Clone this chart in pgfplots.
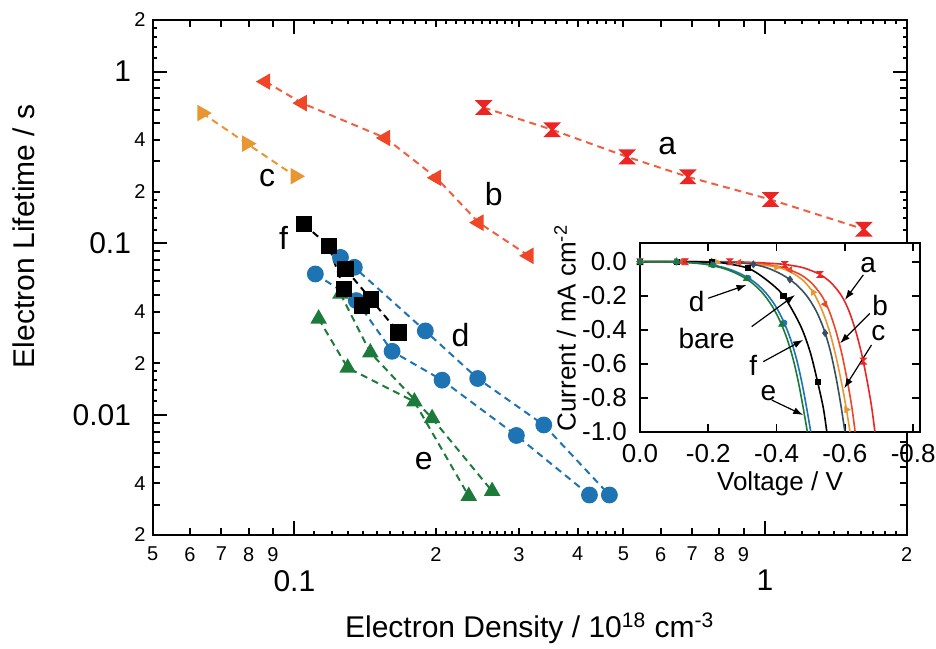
\documentclass[border=0pt]{standalone}
\usepackage{pgfplots}
\pgfplotsset{compat=1.18}
\usepackage{fontspec}
\setmainfont{Liberation Sans}
\usetikzlibrary{arrows.meta}
\definecolor{cA}{RGB}{236,36,36}
\definecolor{cAl}{RGB}{240,95,65}
\definecolor{cB}{RGB}{238,70,38}
\definecolor{cC}{RGB}{232,150,50}
\definecolor{cD}{RGB}{30,115,178}
\definecolor{cE}{RGB}{28,122,58}
\definecolor{cBare}{RGB}{55,80,95}
\pgfdeclareplotmark{hourglass}{%
  \pgfpathmoveto{\pgfqpoint{-\pgfplotmarksize}{\pgfplotmarksize}}%
  \pgfpathlineto{\pgfqpoint{\pgfplotmarksize}{\pgfplotmarksize}}%
  \pgfpathlineto{\pgfqpoint{-\pgfplotmarksize}{-\pgfplotmarksize}}%
  \pgfpathlineto{\pgfqpoint{\pgfplotmarksize}{-\pgfplotmarksize}}%
  \pgfpathclose
  \pgfusepathqfillstroke}
\begin{document}
\begin{tikzpicture}
\begin{axis}[
  at={(0pt,0pt)}, anchor=south west,
  scale only axis, width=377pt, height=257.5pt,
  xmode=log, ymode=log, xmin=0.05, xmax=2, ymin=0.002, ymax=2,
  clip=false,
  axis line style={line width=1pt},
  every tick/.style={black, line width=1pt},
  tick align=inside, tick pos=both,
  major tick length=3.5pt, minor tick length=2pt,
  /pgf/number format/assume math mode=true,
  tick label style={font=\fontsize{10}{10}\selectfont},
  x tick label style={yshift=-2.5pt},
  xtick={0.05,0.06,0.07,0.08,0.09,0.2,0.3,0.4,0.5,0.6,0.7,0.8,0.9,2},
  xticklabels={5,6,7,8,9,2,3,4,5,6,7,8,9,2},
  minor xtick={0.11,0.12,0.13,0.14,0.15,0.16,0.17,0.18,0.19,0.21,0.22,0.23,0.24,0.25,0.26,0.27,0.28,0.29,0.32,0.34,0.36,0.38,0.42,0.44,0.46,0.48,1.1,1.2,1.3,1.4,1.5,1.6,1.7,1.8,1.9},
  ytick={0.002,0.003,0.004,0.005,0.006,0.007,0.008,0.009,0.02,0.03,0.04,0.05,0.06,0.07,0.08,0.09,0.2,0.3,0.4,0.5,0.6,0.7,0.8,0.9,2},
  yticklabels={{2},{},{4},{},{},{},{},{},{2},{},{4},{},{},{},{},{},{2},{},{4},{},{},{},{},{},{2}},
  minor ytick={0.012,0.014,0.016,0.018,0.12,0.14,0.16,0.18,1.2,1.4,1.6,1.8},
  extra x ticks={0.1,1}, extra x tick labels={0.1,1},
  extra x tick style={major tick length=7pt, tick label style={font=\fontsize{15}{15}\selectfont, yshift=-11.5pt}},
  extra y ticks={0.01,0.1,1}, extra y tick labels={0.01,0.1,1},
  extra y tick style={major tick length=7pt, tick label style={font=\fontsize{15}{15}\selectfont, xshift=-7.3pt}},
  xlabel={Electron Density / 10\textsuperscript{18} cm\textsuperscript{-3}},
  ylabel={Electron Lifetime / s},
  label style={font=\fontsize{15}{15}\selectfont},
  xlabel style={at={(axis description cs:0.5,-0.1806)}, anchor=center},
  ylabel style={at={(axis description cs:-0.1707,0.58)}, anchor=center},
]
% a
\addplot[cAl, dashed, dash pattern=on 3.5pt off 2.5pt, line width=1pt, mark=hourglass, mark size=3.2pt, mark options={solid, fill=cA, draw=cA}]
 coordinates {(0.2525,0.618) (0.3529,0.459) (0.5094,0.319) (0.6855,0.244) (1.027,0.180) (1.622,0.1208)};
% b
\addplot[cAl, dashed, dash pattern=on 3.5pt off 2.5pt, line width=1pt, mark=triangle*, mark size=3.8pt, mark options={solid, rotate=90, fill=cB, draw=cB}]
 coordinates {(0.0868,0.875) (0.1038,0.656) (0.1561,0.411) (0.2003,0.241) (0.2464,0.132) (0.3148,0.0846)};
% c
\addplot[cC, dashed, dash pattern=on 3.5pt off 2.5pt, line width=1pt, mark=triangle*, mark size=3.8pt, mark options={solid, rotate=-90, fill=cC, draw=cC}]
 coordinates {(0.0637,0.574) (0.0793,0.381) (0.1005,0.246)};
% d
\addplot[cD, dashed, dash pattern=on 3.5pt off 2.5pt, line width=1pt, mark=*, mark size=3.7pt, mark options={solid, fill=cD, draw=cD}]
 coordinates {(0.1253,0.0828) (0.1341,0.0725) (0.1898,0.0309) (0.2452,0.01632) (0.3388,0.00875) (0.467,0.00342)};
\addplot[cD, dashed, dash pattern=on 3.5pt off 2.5pt, line width=1pt, mark=*, mark size=3.7pt, mark options={solid, fill=cD, draw=cD}]
 coordinates {(0.1108,0.0663) (0.1354,0.0464) (0.1613,0.0235) (0.206,0.01596) (0.2963,0.0076) (0.4236,0.00342)};
% e
\addplot[cE, dashed, dash pattern=on 3.5pt off 2.5pt, line width=1pt, mark=triangle*, mark size=3.8pt, mark options={solid, fill=cE, draw=cE}]
 coordinates {(0.1126,0.03636) (0.1298,0.01883) (0.1799,0.01196) (0.2347,0.00337)};
\addplot[cE, dashed, dash pattern=on 3.5pt off 2.5pt, line width=1pt, mark=triangle*, mark size=3.8pt, mark options={solid, fill=cE, draw=cE}]
 coordinates {(0.1253,0.0508) (0.145,0.0231) (0.1962,0.00957) (0.2631,0.0036)};
% f
\addplot[black, dashed, dash pattern=on 3.5pt off 2.5pt, line width=1pt, mark=square*, mark size=3.6pt, mark options={solid, fill=black}]
 coordinates {(0.1047,0.1292) (0.1183,0.0967) (0.1273,0.0543) (0.1393,0.0434)};
\addplot[black, dashed, dash pattern=on 3.5pt off 2.5pt, line width=1pt, mark=square*, mark size=3.6pt, mark options={solid, fill=black}]
 coordinates {(0.1284,0.0709) (0.1456,0.0470) (0.1666,0.0302)};
\begin{scope}[font=\fontsize{16}{16}\selectfont]
\node at (axis cs:0.6195,0.3674) {a};
\node at (axis cs:0.2652,0.1929) {b};
\node at (axis cs:0.0875,0.241) {c};
\node at (axis cs:0.2254,0.0291) {d};
\node at (axis cs:0.1883,0.00537) {e};
\node at (axis cs:0.0949,0.1082) {f};
\end{scope}
\end{axis}
\begin{axis}[
  at={(243.65pt,51.65pt)}, anchor=south west,
  scale only axis, width=140pt, height=94.2pt,
  x dir=reverse, xmin=-0.82, xmax=0, ymin=-1.0, ymax=0.108,
  axis background/.style={fill=white},
  axis line style={line width=0.9pt},
  every tick/.style={black, line width=0.9pt},
  tick align=inside, tick pos=both, major tick length=4pt,
  /pgf/number format/assume math mode=true,
  tick label style={font=\fontsize{13}{13}\selectfont},
  x tick label style={yshift=-3pt},
  y tick label style={xshift=-3pt},
  xtick={0,-0.2,-0.4,-0.6,-0.8}, xticklabels={0.0,-0.2,-0.4,-0.6,-0.8},
  ytick={0,-0.2,-0.4,-0.6,-0.8,-1.0}, yticklabels={0.0,-0.2,-0.4,-0.6,-0.8,-1.0},
  xlabel={Voltage / V}, ylabel={Current / mA cm\textsuperscript{-2}},
  label style={font=\fontsize{13}{13}\selectfont},
  xlabel style={at={(axis description cs:0.5,-0.274)}, anchor=center},
  ylabel style={at={(axis description cs:-0.268,0.55)}, anchor=center},
]
% curves
\addplot[cA, line width=0.8pt, smooth, tension=0.5] coordinates {(0,0) (-0.1,0) (-0.2,0) (-0.3,-0.002) (-0.4,-0.012) (-0.44,-0.021) (-0.48,-0.037) (-0.527,-0.075) (-0.56,-0.125) (-0.59,-0.2) (-0.612,-0.29) (-0.632,-0.41) (-0.65,-0.55) (-0.666,-0.71) (-0.678,-0.85) (-0.688,-1.0)};
\addplot[cB, line width=0.8pt, smooth, tension=0.5] coordinates {(0,0) (-0.1,0) (-0.2,-0.001) (-0.28,-0.004) (-0.35,-0.012) (-0.385,-0.021) (-0.422,-0.037) (-0.469,-0.075) (-0.502,-0.125) (-0.532,-0.2) (-0.554,-0.29) (-0.574,-0.41) (-0.592,-0.55) (-0.608,-0.71) (-0.62,-0.85) (-0.63,-1.0)};
\addplot[cC, line width=0.8pt, smooth, tension=0.5] coordinates {(0,0) (-0.1,0) (-0.2,-0.002) (-0.3,-0.008) (-0.4,-0.032) (-0.445,-0.065) (-0.48,-0.115) (-0.51,-0.19) (-0.534,-0.29) (-0.555,-0.41) (-0.573,-0.55) (-0.589,-0.70) (-0.603,-0.85) (-0.615,-1.0)};
\addplot[cBare, line width=0.8pt, smooth, tension=0.5] coordinates {(0,0) (-0.1,0) (-0.18,-0.001) (-0.25,-0.003) (-0.32,-0.012) (-0.37,-0.035) (-0.415,-0.075) (-0.455,-0.13) (-0.488,-0.2) (-0.516,-0.29) (-0.539,-0.40) (-0.558,-0.53) (-0.574,-0.68) (-0.588,-0.84) (-0.60,-1.0)};
\addplot[black, line width=0.8pt, smooth, tension=0.5] coordinates {(0,0) (-0.1,0) (-0.2,-0.003) (-0.244,-0.008) (-0.317,-0.039) (-0.371,-0.108) (-0.42,-0.2) (-0.469,-0.372) (-0.498,-0.529) (-0.52,-0.706) (-0.537,-0.862) (-0.547,-1.0)};
\addplot[cD, line width=0.8pt, smooth, tension=0.5] coordinates {(0,0) (-0.07,0) (-0.13,-0.003) (-0.2,-0.015) (-0.255,-0.04) (-0.298,-0.075) (-0.335,-0.12) (-0.367,-0.18) (-0.395,-0.255) (-0.419,-0.345) (-0.44,-0.45) (-0.458,-0.57) (-0.474,-0.71) (-0.488,-0.86) (-0.5,-1.0)};
\addplot[cE, line width=0.8pt, smooth, tension=0.5] coordinates {(0,0) (-0.06,0) (-0.12,-0.003) (-0.19,-0.015) (-0.245,-0.04) (-0.288,-0.075) (-0.325,-0.12) (-0.357,-0.18) (-0.385,-0.255) (-0.409,-0.345) (-0.43,-0.45) (-0.448,-0.57) (-0.464,-0.71) (-0.478,-0.86) (-0.49,-1.0)};
% markers
\addplot[only marks, mark=hourglass, mark size=1.5pt, cA, mark options={fill=cA}] coordinates {(0,0) (-0.132,0) (-0.263,-0.001) (-0.424,-0.017) (-0.527,-0.075) (-0.654,-0.585)};
\addplot[only marks, mark=triangle*, mark size=1.7pt, cB, mark options={rotate=90, fill=cB}] coordinates {(0,0) (-0.12,0) (-0.29,-0.005) (-0.439,-0.048) (-0.542,-0.25)};
\addplot[only marks, mark=triangle*, mark size=1.7pt, cC, mark options={rotate=-90, fill=cC}] coordinates {(0,0) (-0.107,0) (-0.225,-0.003) (-0.4,-0.032) (-0.507,-0.18) (-0.605,-0.87)};
\addplot[only marks, mark=diamond*, mark size=1.7pt, cBare, mark options={fill=cBare}] coordinates {(0,0) (-0.107,0) (-0.21,-0.002) (-0.332,-0.016) (-0.439,-0.105) (-0.542,-0.42)};
\addplot[only marks, mark=square*, mark size=1.3pt, black] coordinates {(0,0) (-0.107,0) (-0.21,-0.004) (-0.317,-0.039) (-0.42,-0.2) (-0.52,-0.706)};
\addplot[only marks, mark=*, mark size=1.4pt, cD, mark options={fill=cD}] coordinates {(0,0) (-0.107,0) (-0.214,-0.02) (-0.317,-0.097) (-0.422,-0.36)};
\addplot[only marks, mark=triangle*, mark size=1.7pt, cE, mark options={fill=cE}] coordinates {(0,0) (-0.107,0) (-0.21,-0.02) (-0.312,-0.1) (-0.415,-0.37)};
% labels and arrows
\begin{scope}[font=\fontsize{14}{14}\selectfont]
\node at (axis cs:-0.6685,-0.019) {a};
\node at (axis cs:-0.703,-0.255) {b};
\node at (axis cs:-0.698,-0.421) {c};
\node at (axis cs:-0.166,-0.235) {d};
\node at (axis cs:-0.195,-0.45) {bare};
\node at (axis cs:-0.332,-0.608) {f};
\node at (axis cs:-0.376,-0.774) {e};
\end{scope}
\begin{scope}[line width=0.6pt, -{Latex[length=5pt,width=3.5pt]}]
\draw (axis cs:-0.654,-0.078) -- (axis cs:-0.600,-0.225);
\draw (axis cs:-0.673,-0.304) -- (axis cs:-0.586,-0.48);
\draw (axis cs:-0.678,-0.49) -- (axis cs:-0.598,-0.745);
\draw (axis cs:-0.200,-0.215) -- (axis cs:-0.312,-0.137);
\draw (axis cs:-0.327,-0.382) -- (axis cs:-0.454,-0.196);
\draw (axis cs:-0.361,-0.588) -- (axis cs:-0.478,-0.46);
\draw (axis cs:-0.386,-0.814) -- (axis cs:-0.478,-0.902);
\end{scope}
\end{axis}
\pgfresetboundingbox
\path[use as bounding box] (-76.35pt,-56.5pt) rectangle (391.65pt,267.5pt);
\end{tikzpicture}
\end{document}
